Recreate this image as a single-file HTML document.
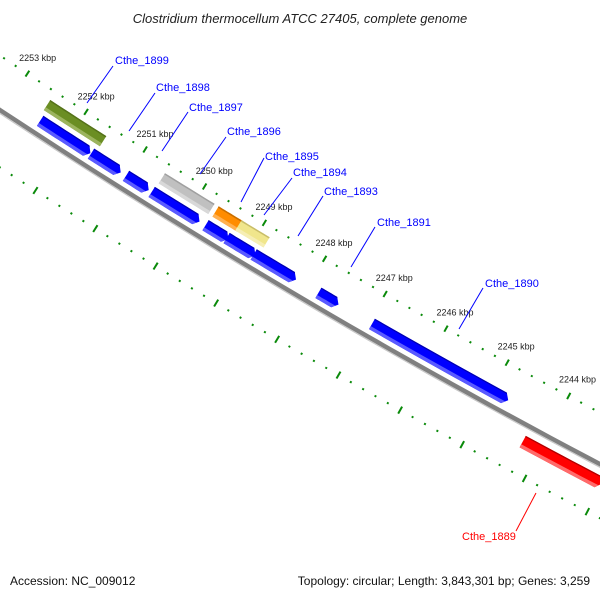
<!DOCTYPE html>
<html><head><meta charset="utf-8">
<style>
html,body{margin:0;padding:0;background:#fff;}
svg{display:block;font-family:"Liberation Sans",sans-serif;}
</style></head>
<body>
<svg id="map" width="600" height="600" viewBox="0 0 600 600" xmlns="http://www.w3.org/2000/svg">
<rect x="0" y="0" width="600" height="600" fill="#fff"/>
<text x="300" y="23" text-anchor="middle" font-size="13" font-style="italic" fill="#222">Clostridium thermocellum ATCC 27405, complete genome</text>
<g id="tracks"></g>
<g id="labels"></g>
<text x="10" y="585" font-size="12" fill="#111">Accession: NC_009012</text>
<text x="590" y="585" font-size="12" fill="#111" text-anchor="end">Topology: circular; Length: 3,843,301 bp; Genes: 3,259</text>
</svg>
<script>
// ---- data ----
const geneNames  = ["Cthe_1899b","Cthe_1899","Cthe_1898","Cthe_1897","Cthe_1896","Cthe_1895","Cthe_1894","Cthe_1893","Cthe_1891","Cthe_1890","Cthe_1889"];
const geneStart  = [2252480,2251620,2251030,2250600,2249700,2249350,2248900,2247830,2246950,2244270,2251600];
const geneEnd    = [2251630,2251120,2250650,2249800,2249320,2248870,2248200,2247500,2244730,2243000,2251580];
const geneStrand = [1,1,1,1,1,1,1,1,1,-1,0];
const featStart  = [2252520,2250580,2249680,2249300];
const featEnd    = [2251570,2249750,2249270,2248830];
const featColor  = ["#6b8e23","#c0c0c0","#ff8c00","#f0e68c"];
const featLight  = ["#9cb45e","#d8d8d8","#ffb050","#f6eeb4"];
const featDark   = ["#55721a","#a0a0a0","#c86e00","#c8bd6a"];
const tickMin = 2242600, tickMax = 2254600, tickStep = 200, majorStep = 1000;

// ---- geometry ----
const CX = 3876, CY = -5774, R0 = 7046;
const th1 = Math.atan2(112 - CY, 86 - CX);   // 2252 kbp
const th2 = Math.atan2(363 - CY, 507 - CX);  // 2245 kbp
function ang(bp){ return th1 + (bp - 2252000) * (th2 - th1) / (2245000 - 2252000); }
function pt(bp, r){ const a = ang(bp); return [CX + r*Math.cos(a), CY + r*Math.sin(a)]; }
function arcPts(b1, b2, r, n){ const o=[]; for(let i=0;i<=n;i++){ o.push(pt(b1+(b2-b1)*i/n, r)); } return o; }
const NS = "http://www.w3.org/2000/svg";
const tracks = document.getElementById("tracks");
function mk(tag, attrs, parent){ const e=document.createElementNS(NS,tag); for(const k in attrs) e.setAttribute(k,attrs[k]); (parent||tracks).appendChild(e); return e; }
function poly(points){ return points.map(p=>p[0].toFixed(1)+","+p[1].toFixed(1)).join(" "); }

// shape for band [ra,rb] of a feature spanning [rIn,rOut], start..end, with head pointing toward end
function shape(start, end, rIn, rOut, ra, rb, head){
  const rm = (rIn+rOut)/2, hh = (rOut-rIn)/2, dir = Math.sign(end-start);
  const ext = r => end - dir*head*(Math.abs(r-rm)/hh);
  const pts = [];
  pts.push(...arcPts(start, ext(ra), ra, 8));
  if (head>0 && ra<rm && rb>rm) pts.push(pt(end, rm));
  pts.push(...arcPts(ext(rb), start, rb, 8));
  return poly(pts);
}

// backbone
const bb = mk("polyline",{points:poly(arcPts(2255000,2242000,R0,40)),fill:"none",stroke:"#808080","stroke-width":4.5});


const bb2 = mk("polyline",{points:poly(arcPts(2255000,2242000,R0+2.8,40)),fill:"none",stroke:"#c8c8c8","stroke-width":1.2});



// ticks
for (let bp = tickMin; bp <= tickMax; bp += tickStep) {
  const major = bp % majorStep === 0;
  const up = major ? [6997,7004] : [6999.5,7001.5];
  const lo = major ? [7090,7098] : [7093,7095];
  [up, lo].forEach((rr, k) => {
    const a = pt(bp, rr[0]), b = pt(bp, rr[1]);
    const t = mk("line",{x1:a[0].toFixed(1),y1:a[1].toFixed(1),x2:b[0].toFixed(1),y2:b[1].toFixed(1),stroke:"#0a8a0a","stroke-width":2});
    
    
  });
  if (major) {
    const c = pt(bp, 6982);
    const lb = mk("text",{x:c[0].toFixed(1),y:(c[1]+3).toFixed(1),"text-anchor":"middle","font-size":"9",fill:"#222"});
    lb.textContent = (bp/1000) + " kbp";
    
    
  }
}

// feature row (non-arrow)
for (let i = 0; i < featStart.length; i++) {
  const rIn = 7010, rOut = 7022;
  const g = mk("g",{});
  
  
  mk("polygon",{points:shape(featStart[i],featEnd[i],rIn,rOut,rIn,rOut,0),fill:featColor[i]},g);
  mk("polygon",{points:shape(featStart[i],featEnd[i],rIn,rOut,rOut-3.5,rOut,0),fill:featLight[i]},g);
  mk("polygon",{points:shape(featStart[i],featEnd[i],rIn,rOut,rIn,rIn+1.5,0),fill:featDark[i]},g);
}

// genes
for (let i = 0; i < geneStart.length; i++) {
  if (geneStrand[i] === 0) continue;
  const fwd = geneStrand[i] === 1;
  const rIn = fwd ? 7027 : 7056, rOut = fwd ? 7039 : 7069;
  const col = fwd ? "#0000ff" : "#ff0000", light = fwd ? "#5a5aff" : "#ff6a6a", dark = fwd ? "#0000b0" : "#b00000";
  const g = mk("g",{});
  
  
  mk("polygon",{points:shape(geneStart[i],geneEnd[i],rIn,rOut,rIn,rOut,70),fill:col},g);
  mk("polygon",{points:shape(geneStart[i],geneEnd[i],rIn,rOut,rOut-3.5,rOut,70),fill:light},g);
  mk("polygon",{points:shape(geneStart[i],geneEnd[i],rIn,rOut,rIn,rIn+1.2,70),fill:dark},g);
}
</script>
<script>
// label annotations
const labelText = ["Cthe_1899","Cthe_1898","Cthe_1897","Cthe_1896","Cthe_1895","Cthe_1894","Cthe_1893","Cthe_1891","Cthe_1890","Cthe_1889"];
const labelX = [115,156,189,227,265,293,324,377,485,462];
const labelY = [64,91,111,135,160,176,195,226,287,540];
const lineX1 = [113,155,188,226,264,292,323,375,483,536];
const lineY1 = [66,93,112,137,158,178,196,227,288,493];
const lineX2 = [87,129,162,200,241,264,298,351,459,516];
const lineY2 = [103,131,151,174,202,215,236,267,329,531];
const labelColor = ["#0000ff","#0000ff","#0000ff","#0000ff","#0000ff","#0000ff","#0000ff","#0000ff","#0000ff","#ff0000"];
const lg = document.getElementById("labels");
for (let i = 0; i < labelText.length; i++) {
  const l = document.createElementNS("http://www.w3.org/2000/svg","line");
  l.setAttribute("x1",lineX1[i]); l.setAttribute("y1",lineY1[i]);
  l.setAttribute("x2",lineX2[i]); l.setAttribute("y2",lineY2[i]);
  l.setAttribute("stroke",labelColor[i]); l.setAttribute("stroke-width","1");
  
  
  lg.appendChild(l);
  const t = document.createElementNS("http://www.w3.org/2000/svg","text");
  t.setAttribute("x",labelX[i]); t.setAttribute("y",labelY[i]);
  t.setAttribute("font-size","11"); t.setAttribute("fill",labelColor[i]);
  t.textContent = labelText[i];
  
  
  lg.appendChild(t);
}
</script>
</body></html>
